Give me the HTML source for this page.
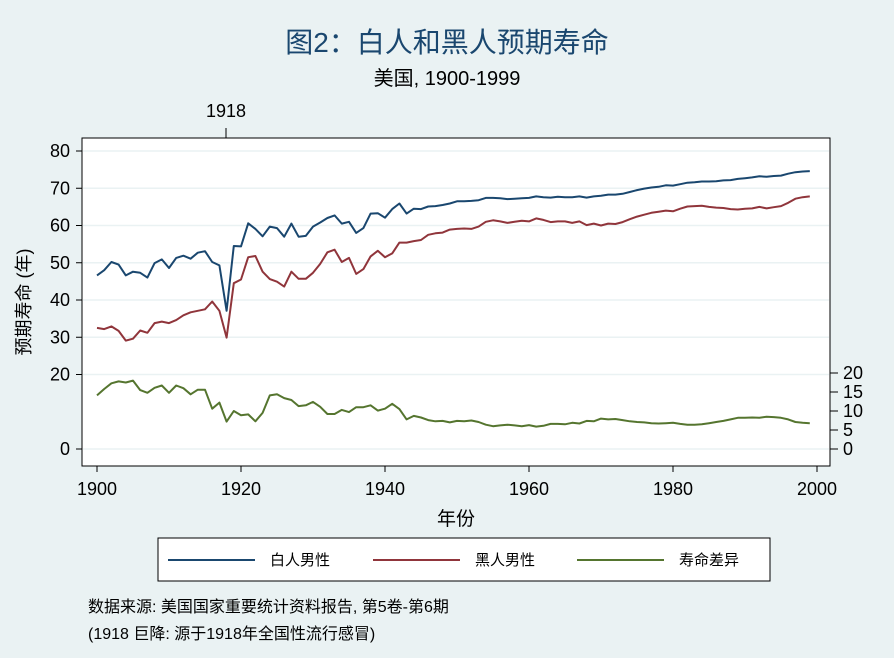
<!DOCTYPE html>
<html><head><meta charset="utf-8"><style>
body{margin:0;background:#eaf2f3;}
svg{display:block;font-family:"Liberation Sans","Noto Sans CJK SC",sans-serif;}
</style></head><body>
<svg id="s" width="894" height="658" viewBox="0 0 894 658">
<rect width="894" height="658" fill="#eaf2f3"/>
<text x="447" y="52" font-size="28" fill="#1a476f" text-anchor="middle">图2：白人和黑人预期寿命</text>
<text x="447" y="85" font-size="20" fill="#000" text-anchor="middle">美国, 1900-1999</text>
<rect x="82" y="138" width="748" height="328" fill="#fff" stroke="#000" stroke-width="1"/>
<g id="grid" stroke="#eaf2f3" stroke-width="1.5"></g>
<g id="ax" font-size="18" fill="#000"></g>
<g id="lines" fill="none" stroke-width="2" stroke-linejoin="round"></g>
<text x="226" y="117" font-size="18" text-anchor="middle">1918</text>
<line x1="226" y1="128" x2="226" y2="138" stroke="#000"/>
<text x="456" y="525" font-size="19" text-anchor="middle">年份</text>
<text transform="translate(30,302) rotate(-90)" font-size="18" text-anchor="middle">预期寿命 (年)</text>
<rect x="158" y="538" width="612" height="43" fill="#fff" stroke="#000"/>
<line x1="168" y1="560" x2="255" y2="560" stroke="#1a476f" stroke-width="2"/>
<text x="270" y="565" font-size="15">白人男性</text>
<line x1="373" y1="560" x2="460" y2="560" stroke="#90353b" stroke-width="2"/>
<text x="475" y="565" font-size="15">黑人男性</text>
<line x1="577" y1="560" x2="664" y2="560" stroke="#55752f" stroke-width="2"/>
<text x="679" y="565" font-size="15">寿命差异</text>
<text x="88" y="612" font-size="16">数据来源:  美国国家重要统计资料报告, 第5卷-第6期</text>
<text x="88" y="639" font-size="16">(1918 巨降: 源于1918年全国性流行感冒)</text>
</svg>
<script>
var w=[46.6,48.0,50.2,49.5,46.6,47.6,47.3,46.0,49.9,50.9,48.6,51.3,51.9,51.1,52.7,53.1,50.2,49.3,37.1,54.5,54.4,60.6,59.1,57.1,59.7,59.3,57.0,60.5,57.0,57.2,59.7,60.8,62.0,62.7,60.5,61.0,58.0,59.3,63.2,63.3,62.1,64.4,65.9,63.2,64.5,64.4,65.1,65.2,65.5,65.9,66.5,66.5,66.6,66.8,67.4,67.4,67.3,67.1,67.2,67.3,67.4,67.8,67.6,67.5,67.7,67.6,67.6,67.8,67.5,67.8,68.0,68.3,68.3,68.5,69.0,69.5,69.9,70.2,70.4,70.8,70.7,71.1,71.5,71.6,71.8,71.8,71.9,72.1,72.2,72.5,72.7,72.9,73.2,73.1,73.3,73.4,73.9,74.3,74.5,74.6];
var b=[32.5,32.2,32.9,31.7,29.1,29.6,31.8,31.2,33.8,34.2,33.8,34.6,35.9,36.7,37.1,37.5,39.6,37.1,29.9,44.5,45.5,51.5,51.8,47.6,45.6,44.9,43.6,47.6,45.7,45.7,47.3,49.7,52.8,53.5,50.2,51.3,47.0,48.3,51.7,53.2,51.5,52.5,55.4,55.4,55.8,56.1,57.5,57.9,58.1,58.9,59.1,59.2,59.1,59.7,61.0,61.4,61.1,60.7,61.0,61.3,61.1,61.9,61.5,60.9,61.1,61.1,60.7,61.1,60.1,60.5,60.0,60.5,60.4,60.9,61.7,62.4,62.9,63.4,63.7,64.0,63.8,64.5,65.1,65.2,65.3,65.0,64.8,64.7,64.4,64.3,64.5,64.6,65.0,64.6,64.9,65.2,66.1,67.2,67.6,67.8];
function X(y){return 97+(y-1900)*7.2}
function YL(v){return 449-v*3.725}
function YR(v){return 449-v*3.8}
var ns="http://www.w3.org/2000/svg";
function el(p,t,a,txt){var e=document.createElementNS(ns,t);for(var k in a)e.setAttribute(k,a[k]);if(txt!==undefined)e.textContent=txt;document.getElementById(p).appendChild(e);}
[0,20,30,40,50,60,70,80].forEach(function(v){var y=YL(v);el("grid","line",{x1:83,x2:829,y1:y,y2:y});
el("ax","line",{x1:76,x2:82,y1:y,y2:y,stroke:"#000"});el("ax","text",{x:70,y:y+6,"text-anchor":"end"},v);});
[0,5,10,15,20].forEach(function(v){var y=YR(v);el("ax","line",{x1:830,x2:838,y1:y,y2:y,stroke:"#000"});el("ax","text",{x:843,y:y+6},v);});
[1900,1920,1940,1960,1980,2000].forEach(function(v){var x=X(v);el("ax","line",{x1:x,x2:x,y1:466,y2:472,stroke:"#000"});el("ax","text",{x:x,y:495,"text-anchor":"middle"},v);});
function path(arr,f){return arr.map(function(v,i){return (i?"L":"M")+X(1900+i).toFixed(1)+","+f(v).toFixed(1)}).join("");}
el("lines","path",{d:path(w,YL),stroke:"#1a476f"});
el("lines","path",{d:path(b,YL),stroke:"#90353b"});
el("lines","path",{d:path(w.map(function(v,i){return v-b[i]}),YR),stroke:"#55752f"});
</script>
</body></html>
